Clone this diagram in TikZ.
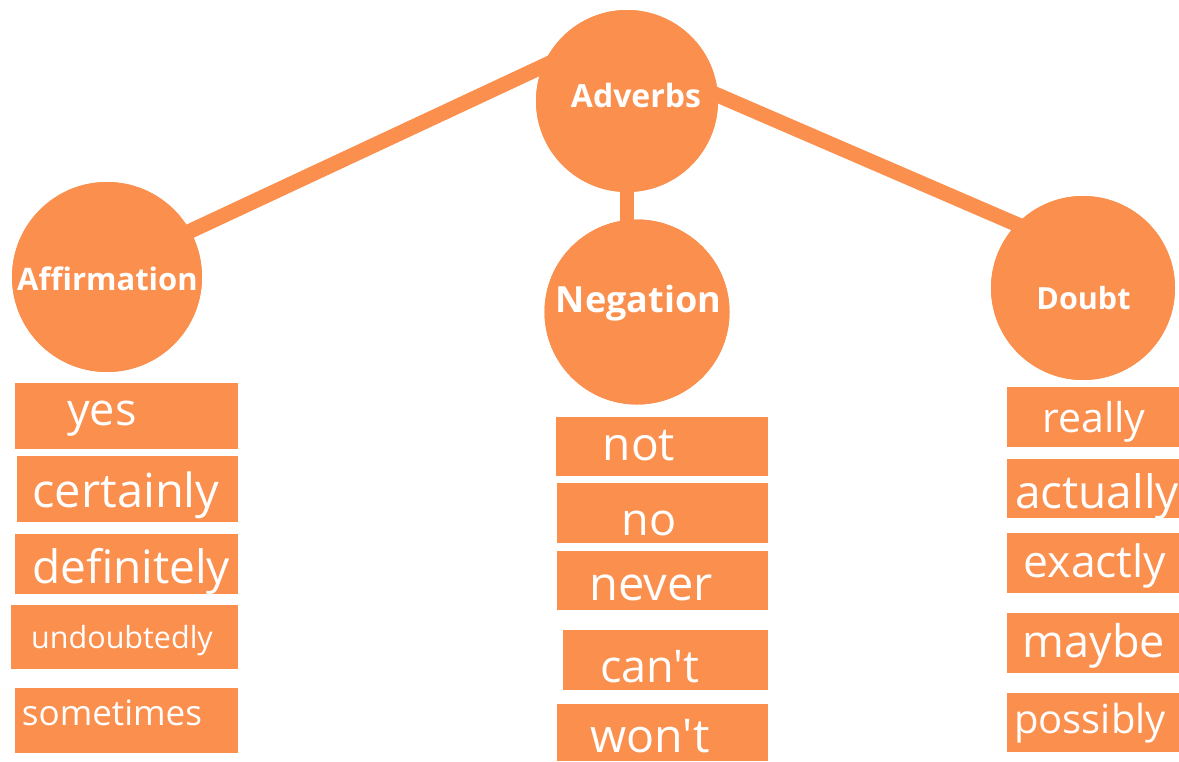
\documentclass[tikz,border=0pt]{standalone}
\usepackage{fontspec}
\setmainfont{Open Sans}[Ligatures=TeXOff]
\begin{document}
\definecolor{adv}{RGB}{251,143,78}
\newcommand{\fsz}[1]{\fontsize{#1}{#1}\selectfont}
% \wordbox{name}{x1}{y1}{x2}{y2}{text x}{baseline}{size}{word}
\newcommand{\wordbox}[9]{%
  \fill[adv] (#2,#3) rectangle (#4,#5);
  \node[word, font=\fsz{#8}] (#1) at (#6,#7) {#9};}
\begin{tikzpicture}[x=1pt,y=-1pt,
  bubble/.style={circle, fill=adv, inner sep=0pt, minimum size=#1},
  head/.style={text=white, anchor=base, inner sep=0pt, font=\bfseries},
  word/.style={text=white, anchor=base, inner sep=0pt},
  link/.style={draw=adv, line width=15pt}]
\useasboundingbox (0,0) rectangle (1179,761);

% category circles
\node[bubble=182pt] (adv) at (627,101) {};
\node[bubble=190pt] (aff) at (107,277) {};
\node[bubble=185pt] (neg) at (637,312) {};
\node[bubble=184pt] (dbt) at (1083,288) {};

% connectors
\path[link] ([shift={(0,-7)}]aff.center) -- ([shift={(0,-74)}]adv.center);
\path[link] ([shift={(0,-45)}]adv.center) -- ([shift={(0,-35)}]dbt.center);
\path[link, line width=14pt] (adv.center) -- (adv.center |- neg.center);

% circles painted again over the connectors
\fill[adv] (adv.center) circle (91);
\fill[adv] (aff.center) circle (95);
\fill[adv] (neg.center) circle (92.5);
\fill[adv] (dbt.center) circle (92);

% circle titles
\node[head, font=\bfseries\fsz{32}] (tadv) at (636,107) {Adverbs};
\node[head, font=\bfseries\fsz{31}] (taff) at (107.5,290) {Affirmation};
\node[head, font=\bfseries\fsz{36}] (tneg) at (638.5,312) {Negation};
\node[head, font=\bfseries\fsz{30.5}] (tdbt) at (1083.5,309) {Doubt};

% affirmation words
\wordbox{a1}{15}{383}{238}{449}{102}{425}{45}{yes}
\wordbox{a2}{17}{456}{238}{522}{126}{507}{47}{certainly}
\wordbox{a3}{15}{534}{238}{594}{131}{583}{46}{definitely}
\wordbox{a4}{11}{605}{238}{669}{122}{648}{30.5}{undoubtedly}
\wordbox{a5}{15}{688}{238}{753}{112}{725}{35}{sometimes}

% negation words
\wordbox{n1}{556}{417}{768}{476}{639}{460}{46}{not}
\wordbox{n2}{557}{483}{768}{543}{649}{535}{45}{no}
\wordbox{n3}{557}{551}{768}{610}{651}{600}{47}{never}
\wordbox{n4}{563}{630}{768}{690}{650}{682}{45}{can't}
\wordbox{n5}{557}{704}{768}{761}{650}{752}{46.5}{won't}

% doubt words
\wordbox{d1}{1007}{387}{1179}{447}{1094}{432}{41}{really}
\wordbox{d2}{1007}{459}{1179}{518}{1097}{508}{46}{actually}
\wordbox{d3}{1007}{533}{1179}{593}{1095}{577}{44.5}{exactly}
\wordbox{d4}{1007}{613}{1179}{673}{1094}{657}{45}{maybe}
\wordbox{d5}{1007}{693}{1179}{752}{1090}{733}{40}{possibly}
\end{tikzpicture}
\end{document}
